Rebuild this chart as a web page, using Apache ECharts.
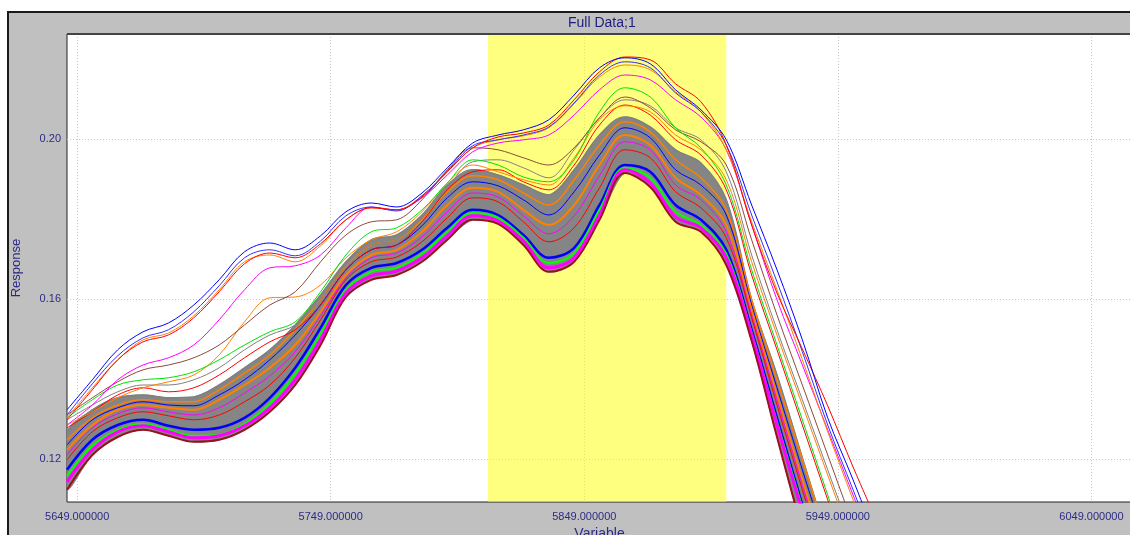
<!DOCTYPE html>
<html><head><meta charset="utf-8">
<script src="https://cdn.jsdelivr.net/npm/echarts@6/dist/echarts.min.js"></script>
<style>
html,body{margin:0;padding:0;background:#fff;overflow:hidden;width:1130px;height:535px}
#frame{position:absolute;left:7px;top:11px;width:1140px;height:540px;background:#c0c0c0;border-left:2px solid #1a1a1a;border-top:2px solid #1a1a1a}
#chart{position:absolute;left:0;top:0;width:1130px;height:535px}
</style></head><body>
<div id="frame"></div><div id="chart"></div>
<script>
// wavelength samples
const X = [5645,5655,5665,5675,5685,5695,5705,5715,5725,5735,5745,5755,5765,5775,5785,5795,5805,5815,5825,5835,5845,5855,5865,5875,5885,5895,5905,5915,5925,5935,5945,5955,5965];
const xTicks = [5649,5749,5849,5949,6049];
const yTicks = [0.12,0.16,0.20];
const yellowStart = 5811, yellowEnd = 5905;

// dense gray bundle: lower and upper edges
const bandLower = [0.1123,0.121,0.1255,0.1273,0.1258,0.1243,0.1248,0.1273,0.1318,0.1385,0.1485,0.1605,0.1648,0.166,0.1693,0.1748,0.1798,0.1788,0.1735,0.1668,0.1693,0.1798,0.1915,0.188,0.1793,0.1768,0.1685,0.1495,0.1255,0.1023,0.0823,0.0623,0.0423];
const bandUpper = [0.1268,0.1323,0.1353,0.136,0.1353,0.1355,0.1385,0.1428,0.1473,0.1535,0.161,0.1693,0.1748,0.176,0.181,0.1885,0.1923,0.191,0.1885,0.186,0.1923,0.201,0.2055,0.203,0.1973,0.194,0.1848,0.1598,0.141,0.1203,0.0998,0.0798,0.0598];

// outer (top) curves
const topBlue = [0.1323,0.1398,0.1473,0.1518,0.154,0.1585,0.1648,0.1718,0.174,0.1723,0.1758,0.1818,0.184,0.183,0.1865,0.1928,0.199,0.201,0.2023,0.2048,0.211,0.2178,0.2203,0.2188,0.2123,0.2073,0.1998,0.1835,0.1673,0.1498,0.1303,0.1148,0.0985];
const topBlue2 = [0.131,0.1388,0.1458,0.1503,0.1523,0.1568,0.1633,0.1703,0.1723,0.1708,0.1745,0.1808,0.183,0.182,0.1858,0.192,0.1983,0.1998,0.201,0.203,0.209,0.216,0.2193,0.2178,0.2115,0.2068,0.1985,0.181,0.1643,0.1468,0.1285,0.1123,0.096];
const topRed = [0.1298,0.1373,0.1448,0.1493,0.151,0.1553,0.1618,0.1688,0.1715,0.1703,0.1738,0.1798,0.1828,0.1823,0.1855,0.1918,0.1978,0.2005,0.2015,0.2035,0.2098,0.2168,0.2205,0.2198,0.2138,0.2093,0.1985,0.1785,0.1615,0.1475,0.1333,0.118,0.1035];
const topOrange = [0.1303,0.1378,0.1448,0.1498,0.1515,0.1558,0.1623,0.1693,0.171,0.1693,0.1733,0.1798,0.1828,0.1823,0.1858,0.1918,0.1978,0.1998,0.2008,0.2028,0.2088,0.2155,0.2185,0.2173,0.2118,0.2068,0.1973,0.1793,0.1623,0.1448,0.1268,0.1098,0.0935];
const upperMagenta = [0.1285,0.1335,0.1398,0.1435,0.1453,0.1485,0.1548,0.1623,0.1678,0.1683,0.171,0.1778,0.183,0.1823,0.1853,0.191,0.1968,0.199,0.1998,0.201,0.206,0.2123,0.216,0.2148,0.2098,0.2055,0.1973,0.1785,0.1598,0.1435,0.1273,0.111,0.0948];

// fan of curves between bundle and top
const fanGreen = [0.1303,0.1348,0.1385,0.1398,0.1403,0.1418,0.1448,0.1485,0.1518,0.1543,0.1618,0.171,0.1768,0.1778,0.1823,0.189,0.1948,0.1935,0.1905,0.1893,0.1948,0.2068,0.2128,0.2105,0.2028,0.1978,0.1885,0.1673,0.1485,0.1298,0.111,0.0923,0.0748];
const fanBrown = [0.131,0.1353,0.1393,0.1423,0.1435,0.1453,0.1485,0.1535,0.1585,0.1618,0.1693,0.176,0.1793,0.1798,0.1848,0.1923,0.1978,0.1973,0.1953,0.1935,0.1978,0.2053,0.2105,0.2078,0.2023,0.1993,0.1935,0.1748,0.156,0.1385,0.121,0.1035,0.086];
const fanOrange = [0.1285,0.1318,0.1353,0.1378,0.1393,0.141,0.146,0.1543,0.1603,0.1605,0.1635,0.1703,0.1748,0.1768,0.1818,0.189,0.1935,0.1918,0.1898,0.1885,0.1953,0.2048,0.2083,0.2068,0.201,0.1973,0.1898,0.1693,0.151,0.1335,0.116,0.0985,0.081];
const fanGray = [0.1298,0.1335,0.1368,0.1385,0.1385,0.1398,0.1428,0.1473,0.151,0.1535,0.1598,0.1685,0.1735,0.1748,0.1803,0.1878,0.1943,0.1948,0.1928,0.1903,0.1973,0.2053,0.2098,0.2083,0.2028,0.1998,0.1918,0.171,0.1523,0.1348,0.1173,0.0998,0.0823];
const fanRed = [0.1278,0.1318,0.136,0.1378,0.1368,0.1378,0.141,0.1453,0.1493,0.1523,0.1585,0.1673,0.1723,0.1735,0.1793,0.1873,0.1918,0.1923,0.1893,0.1873,0.1935,0.2035,0.2085,0.206,0.1998,0.196,0.1873,0.166,0.1473,0.1285,0.1098,0.091,0.0723];

// curves inside the dense bundle
const innerBlue = [0.1173,0.1248,0.1285,0.1298,0.1283,0.1273,0.1278,0.1303,0.1353,0.1428,0.1528,0.1635,0.1678,0.169,0.1723,0.1778,0.1823,0.181,0.176,0.1703,0.1728,0.1835,0.1935,0.1918,0.1835,0.1798,0.1723,0.1523,0.1303,0.1085,0.0873,0.0673,0.0473];
const innerMagenta = [0.1143,0.1223,0.1268,0.1283,0.1268,0.1253,0.1258,0.1283,0.1328,0.1398,0.1498,0.1615,0.1658,0.167,0.1703,0.1758,0.1808,0.1795,0.1745,0.1678,0.1703,0.181,0.1923,0.189,0.1805,0.1778,0.1703,0.151,0.1285,0.1068,0.086,0.066,0.046];
const innerGreen = [0.1158,0.1233,0.1273,0.1288,0.1273,0.1258,0.126,0.1288,0.1338,0.1413,0.1513,0.1623,0.1668,0.1678,0.1713,0.1768,0.1815,0.1803,0.1753,0.169,0.1715,0.1823,0.1928,0.1903,0.1818,0.1785,0.1713,0.1515,0.1293,0.1078,0.0868,0.0668,0.0468];
const innerOrange = [0.1223,0.1285,0.1323,0.1335,0.1328,0.1323,0.1348,0.1385,0.1428,0.1485,0.1568,0.166,0.171,0.1723,0.1768,0.1835,0.1878,0.1868,0.1823,0.1785,0.1835,0.1935,0.201,0.1985,0.1903,0.186,0.1785,0.1573,0.136,0.1148,0.0948,0.0748,0.0548];
const innerOrange2 = [0.1248,0.1303,0.1335,0.1348,0.1343,0.1343,0.1373,0.1415,0.146,0.1523,0.1598,0.1683,0.1735,0.1748,0.1798,0.1868,0.1908,0.1898,0.1865,0.1835,0.1898,0.1985,0.2043,0.2018,0.1948,0.1903,0.1823,0.1598,0.1398,0.1198,0.0998,0.0798,0.0598];
const innerRed = [0.1198,0.1268,0.1303,0.1318,0.1308,0.1298,0.131,0.1343,0.1385,0.1453,0.1548,0.1648,0.1693,0.1705,0.1743,0.1803,0.1853,0.1843,0.1793,0.1743,0.1778,0.1878,0.1973,0.1953,0.1868,0.1828,0.1753,0.1553,0.1335,0.1123,0.0918,0.0718,0.0518];
const innerBlue2 = [0.1235,0.1298,0.1328,0.1343,0.1335,0.1333,0.136,0.1398,0.1448,0.151,0.1585,0.1673,0.1723,0.1735,0.1783,0.1853,0.1893,0.1883,0.1848,0.181,0.1868,0.196,0.2028,0.2003,0.1923,0.1885,0.181,0.1585,0.1378,0.1173,0.0973,0.0773,0.0573];
const innerMagenta2 = [0.121,0.1278,0.1313,0.1328,0.1318,0.131,0.1328,0.1365,0.1408,0.1468,0.1558,0.1653,0.1703,0.1715,0.1755,0.1818,0.1865,0.1855,0.1808,0.1763,0.1808,0.1908,0.1993,0.1973,0.1885,0.1848,0.1768,0.156,0.1348,0.1135,0.0933,0.0733,0.0533];

const NAVY = '#2b2b86';
const FONT = '"Liberation Sans", Arial, sans-serif';
const pts = arr => X.map((x, i) => [x, arr[i]]);

function line(name, arr, color, width, z) {
  return { name, type: 'line', data: pts(arr), smooth: 0.35, symbol: 'none', z: z || 4,
    lineStyle: { color, width }, emphasis: { disabled: true }, silent: true };
}

const series = [
  { name: 'region', type: 'line', data: [], z: 1, silent: true,
    markArea: { silent: true, itemStyle: { color: 'rgba(255,255,0,0.5)' },
      data: [[{ xAxis: yellowStart }, { xAxis: yellowEnd }]] } },
  { name: 'band', type: 'custom', z: 2, clip: true, silent: true,
    data: [[X[0], bandLower[0]]],
    renderItem: (params, api) => {
      const up = X.map((x, i) => api.coord([x, bandUpper[i]]));
      const lo = X.map((x, i) => api.coord([x, bandLower[i]])).reverse();
      return { type: 'polygon', shape: { points: up.concat(lo), smooth: 0.3 },
        style: { fill: '#858585', stroke: '#808080', lineWidth: 1 } };
    } },
  line('bandUpperLine', bandUpper, '#808080', 1.5, 3),
  line('innerOrange2', innerOrange2, '#ff8000', 1.5, 3),
  line('innerBlue2', innerBlue2, '#0000ff', 1, 3),
  line('innerOrange', innerOrange, '#ff8000', 2, 3),
  line('innerMagenta2', innerMagenta2, '#ff00ff', 1, 3),
  line('innerRed', innerRed, '#ff0000', 1, 3),
  line('innerBlue', innerBlue, '#0000ff', 2.5, 3),
  line('innerGreen', innerGreen, '#00ff00', 2, 3),
  line('innerMagenta', innerMagenta, '#ff00ff', 3, 3),
  line('bandLowerLine', bandLower, '#9a1020', 2, 3),
  line('fanRed', fanRed, '#ff0000', 1, 4),
  line('fanGray', fanGray, '#808080', 1, 4),
  line('fanOrange', fanOrange, '#ff8000', 1, 4),
  line('fanBrown', fanBrown, '#8b4a3c', 1, 4),
  line('fanGreen', fanGreen, '#00e000', 1, 4),
  line('upperMagenta', upperMagenta, '#ff00ff', 1, 5),
  line('topOrange', topOrange, '#ff8000', 1, 5),
  line('topBlue2', topBlue2, '#3030ff', 1, 5),
  line('topRed', topRed, '#ff0000', 1, 5),
  line('topBlue', topBlue, '#0000ff', 1, 5)
];

const chart = echarts.init(document.getElementById('chart'), null, { renderer: 'canvas' });
chart.setOption({
  animation: false,
  backgroundColor: 'transparent',
  textStyle: { fontFamily: FONT },
  graphic: [
    { type: 'text', left: 604 - 36, top: 16, style: { text: 'Full Data;1', font: '14px ' + FONT, fill: '#1c1c80' } },
    { type: 'line', shape: { x1: 67, y1: 34, x2: 1130, y2: 34 }, style: { stroke: '#444', lineWidth: 2 }, z: 100 }
  ],
  grid: { left: 67, top: 34, right: -2, bottom: 33, show: true, backgroundColor: '#ffffff', borderColor: '#222', borderWidth: 1,
    containLabel: false, outerBoundsMode: 'none' },
  xAxis: {
    type: 'value', min: 5645, max: 6065,
    name: 'Variable', nameLocation: 'middle', nameGap: 22,
    nameTextStyle: { color: NAVY, fontSize: 14, fontFamily: FONT },
    axisLine: { show: false },
    axisTick: { show: false, customValues: xTicks },
    axisLabel: { customValues: xTicks, color: NAVY, fontSize: 11, fontFamily: FONT, margin: 9,
      formatter: v => Number(v).toFixed(6) },
    splitLine: { show: true, lineStyle: { color: '#c8c8c8', type: [1, 2], width: 1 } }
  },
  yAxis: {
    type: 'value', min: 0.10925, max: 0.22625,
    name: 'Response', nameLocation: 'middle', nameGap: 44,
    nameTextStyle: { color: NAVY, fontSize: 13, fontFamily: FONT },
    axisLine: { show: false },
    axisTick: { show: false, customValues: yTicks },
    axisLabel: { customValues: yTicks, color: NAVY, fontSize: 11, fontFamily: FONT, margin: 6, padding: [7, 0, 0, 0],
      formatter: v => Number(v).toFixed(2) },
    splitLine: { show: true, lineStyle: { color: '#c8c8c8', type: [1, 2], width: 1 } }
  },
  series
});
</script></body></html>
